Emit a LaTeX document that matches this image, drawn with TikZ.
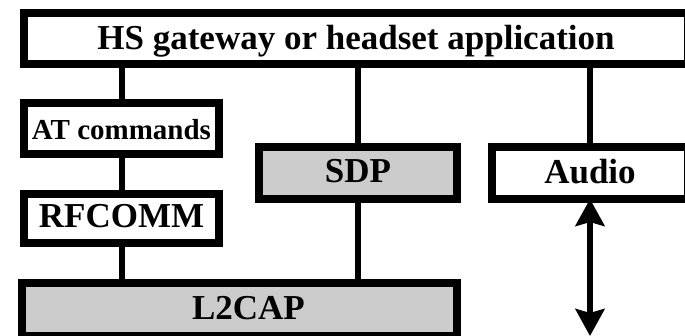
\documentclass[tikz,border=0pt]{standalone}
\usepackage{fontspec}
\setmainfont{Liberation Serif}
\usetikzlibrary{arrows.meta}

\tikzset{
  layer/.style={draw=black, line width=8pt, rectangle, inner sep=0pt, outer sep=0pt,
    font=\bfseries\fontsize{35}{40}\selectfont, text depth=0pt, align=center},
  plain/.style={layer, fill=white},
  shaded/.style={layer, fill=black!20},
  link/.style={line width=6pt, draw=black},
  dualarrow/.style={link, {Stealth[length=27pt,width=29pt,inset=4pt]}-{Stealth[length=27pt,width=29pt,inset=4pt]}},
}

\begin{document}
\begin{tikzpicture}[x=1pt, y=-1pt]
  \clip (0,0) rectangle (685,336);
  \fill[white] (0,0) rectangle (685,336);

  % application layer across the top
  \node[plain, minimum width=664pt, minimum height=51pt, text height=23pt]
    (app) at (356,38.5) {HS gateway or headset application};

  % left stack
  \node[plain, minimum width=195pt, minimum height=51pt, text height=23pt,
        font=\bfseries\fontsize{29}{34}\selectfont]
    (at) at (121.5,128.5) {AT commands};
  \node[plain, minimum width=195pt, minimum height=49pt, text height=19pt]
    (rfcomm) at (121.5,218.5) {RFCOMM};

  % service discovery and audio
  \node[shaded, minimum width=198pt, minimum height=52pt, text height=20pt]
    (sdp) at (358,173) {SDP};
  \node[plain, minimum width=196pt, minimum height=52pt, text height=22pt]
    (audio) at (590,173) {Audio};

  % transport layer
  \node[shaded, minimum width=435pt, minimum height=53pt, text height=21pt]
    (l2cap) at (239.5,309.5) {\hspace*{18pt}L2CAP};

  % vertical links between layers
  \draw[link] (at.north) -- (at.north |- app.south);
  \draw[link] (at.south) -- (rfcomm.north);
  \draw[link] (rfcomm.south) -- (rfcomm.south |- l2cap.north);
  \draw[link] (sdp.north) -- (sdp.north |- app.south);
  \draw[link] (sdp.south) -- (sdp.south |- l2cap.north);
  \draw[link] (audio.north) -- (audio.north |- app.south);

  % audio path leaving the stack
  \coordinate (audioout) at (590,336);
  \draw[dualarrow] (audio.south) -- (audioout);
\end{tikzpicture}
\end{document}
